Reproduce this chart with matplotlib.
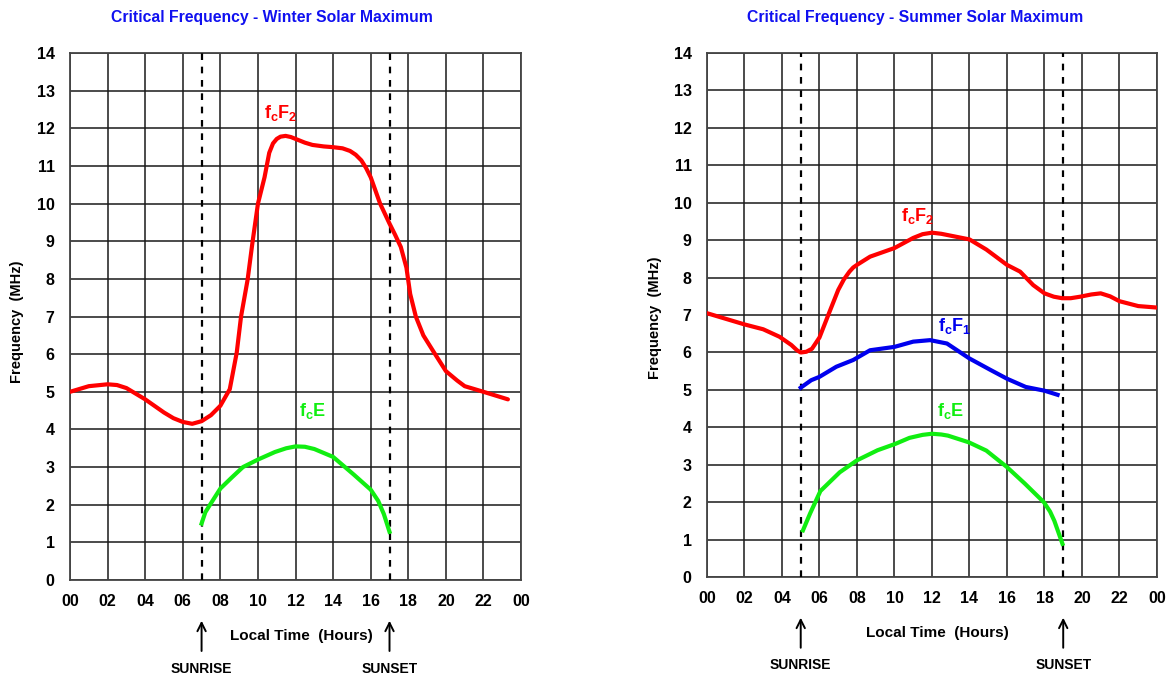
import numpy as np
import matplotlib
matplotlib.use('Agg')
import matplotlib.pyplot as plt

plt.rcParams['font.family'] = ['Liberation Sans', 'DejaVu Sans']
plt.rcParams['font.weight'] = 'bold'
plt.rcParams['mathtext.fontset'] = 'custom'
plt.rcParams['mathtext.rm'] = 'Liberation Sans:bold'
plt.rcParams['mathtext.bf'] = 'Liberation Sans:bold'

# Datos (horas locales, MHz)
hour_ticks = list(range(0, 25, 2))
hour_labels = ['00', '02', '04', '06', '08', '10', '12', '14', '16', '18', '20', '22', '00']
freq_ticks = list(range(0, 15))

# Invierno
winter_sunrise = 7
winter_sunset = 17
winter_f2_t = [0, 1, 2, 2.5, 3, 4, 5, 5.5, 6, 6.5, 7, 7.5, 8, 8.5, 8.87, 9.1, 9.45, 9.7, 10,
               10.35, 10.6, 10.8, 11.0, 11.2, 11.47, 11.75, 12, 12.5, 12.9, 13.5, 14, 14.5,
               14.9, 15.2, 15.5, 15.75, 16, 16.25, 16.5, 17, 17.3, 17.6, 17.9, 18.1, 18.4,
               18.8, 19.3, 20, 20.6, 21, 22, 23.3]
winter_f2 = [5.0, 5.15, 5.2, 5.18, 5.1, 4.8, 4.45, 4.3, 4.2, 4.15, 4.22, 4.38, 4.63, 5.07,
             6.04, 7.0, 7.98, 8.94, 10.0, 10.7, 11.35, 11.6, 11.72, 11.78, 11.8, 11.77,
             11.72, 11.62, 11.56, 11.52, 11.5, 11.47, 11.4, 11.3, 11.15, 10.95, 10.7, 10.35,
             10.0, 9.47, 9.17, 8.85, 8.3, 7.6, 7.0, 6.5, 6.1, 5.55, 5.3, 5.15, 5.0, 4.8]
winter_e_t = [7, 7.2, 7.45, 8, 8.6, 9.2, 10, 10.9, 11.5, 12, 12.5, 13, 14, 15.1, 16, 16.4,
              16.7, 17]
winter_e = [1.5, 1.8, 2.0, 2.43, 2.72, 3.0, 3.2, 3.4, 3.5, 3.55, 3.54, 3.48, 3.27, 2.8, 2.4,
            2.1, 1.75, 1.28]

# Verano
summer_sunrise = 5
summer_sunset = 19
summer_f2_t = [0, 1, 2, 3, 3.87, 4.5, 4.8, 5, 5.3, 5.6, 6, 6.5, 7, 7.3, 7.6, 7.8, 8, 8.7,
               10, 11, 11.5, 12, 12.5, 12.9, 14, 14.9, 16, 16.7, 17.4, 18, 18.5, 18.94,
               19.4, 19.9, 20.5, 21, 21.5, 22, 23, 24]
summer_f2 = [7.05, 6.9, 6.75, 6.62, 6.42, 6.2, 6.06, 6.0, 6.02, 6.1, 6.4, 7.04, 7.67, 7.95,
             8.16, 8.27, 8.34, 8.56, 8.79, 9.06, 9.16, 9.2, 9.17, 9.13, 9.02, 8.75, 8.34,
             8.16, 7.8, 7.58, 7.49, 7.45, 7.45, 7.49, 7.55, 7.58, 7.5, 7.37, 7.24, 7.2]
summer_f1_t = [5, 5.56, 6, 6.9, 7.8, 8.7, 10, 11, 11.9, 12.8, 14, 15.1, 16, 17, 18, 18.7]
summer_f1 = [5.06, 5.26, 5.35, 5.62, 5.8, 6.06, 6.15, 6.29, 6.33, 6.24, 5.84, 5.54, 5.3,
             5.08, 4.98, 4.87]
summer_e_t = [5.12, 5.5, 6.05, 7.08, 8.0, 9.1, 10.05, 10.8, 11.5, 12, 12.5, 12.85, 13.97, 14.9,
              16.0, 16.95, 17.97, 18.3, 18.53, 18.96]
summer_e = [1.25, 1.7, 2.3, 2.8, 3.12, 3.39, 3.56, 3.72, 3.8, 3.83, 3.81, 3.78, 3.6, 3.38,
            2.94, 2.5, 2.0, 1.75, 1.5, 0.89]

RED = '#ff0000'
GREEN = '#11ee11'
BLUE = '#0000ee'
TITLE_BLUE = '#1010f0'


def preparar_ejes(ax, titulo, amanecer, ocaso, title_x, ylab_x, ylab_y):
    ax.set_xlim(0, 24)
    ax.set_ylim(0, 14)
    ax.set_xticks(hour_ticks)
    ax.set_xticklabels(hour_labels)
    ax.set_yticks(freq_ticks)
    ax.tick_params(axis='both', length=0, labelsize=11.5)
    ax.tick_params(axis='x', pad=10)
    ax.tick_params(axis='y', pad=11)
    ax.grid(True, color='#1a1a1a', lw=1.1)
    ax.set_axisbelow(True)
    for s in ax.spines.values():
        s.set_color('#444444')
        s.set_linewidth(1.3)
    for h in (amanecer, ocaso):
        ax.axvline(h, color='black', lw=1.6, ls=(0, (3, 3)), zorder=3)
    tr = ax.get_xaxis_transform()
    for h, txt in ((amanecer, 'SUNRISE'), (ocaso, 'SUNSET')):
        ax.annotate('', xy=(h, -0.072), xytext=(h, -0.14), xycoords=tr, textcoords=tr,
                    arrowprops=dict(arrowstyle='->', lw=1.4, color='black',
                                    mutation_scale=15), annotation_clip=False)
        ax.text(h, -0.168, txt, transform=tr, ha='center', va='center', fontsize=10)
    ax.text(12.3, -0.107, 'Local Time  (Hours)', transform=tr, ha='center', va='center',
            fontsize=11)
    ax.text(ylab_x, ylab_y, 'Frequency  (MHz)', transform=ax.transAxes, rotation=90,
            ha='center', va='center', fontsize=10.5)
    ax.text(title_x, 1.068, titulo, transform=ax.transAxes, ha='center', va='center',
            fontsize=11.3, color=TITLE_BLUE)


fig = plt.figure(figsize=(11.67, 6.79), dpi=100)
ax1 = fig.add_axes([0.060, 0.1458, 0.3865, 0.776])
ax2 = fig.add_axes([0.6058, 0.150, 0.3856, 0.772])

preparar_ejes(ax1, 'Critical Frequency - Winter Solar Maximum', winter_sunrise, winter_sunset,
              0.448, -0.118, 0.49)
ax1.plot(winter_f2_t, winter_f2, color=RED, lw=3, solid_joinstyle='round',
         solid_capstyle='round', zorder=4)
ax1.plot(winter_e_t, winter_e, color=GREEN, lw=3, solid_joinstyle='round', zorder=4)
ax1.text(11.2, 12.4, r'$\mathbf{f_cF_2}$', color=RED, fontsize=13, ha='center', va='center')
ax1.text(12.9, 4.5, r'$\mathbf{f_cE}$', color=GREEN, fontsize=13, ha='center', va='center')

preparar_ejes(ax2, 'Critical Frequency - Summer Solar Maximum', summer_sunrise, summer_sunset,
              0.462, -0.116, 0.494)
ax2.plot(summer_f2_t, summer_f2, color=RED, lw=3, solid_joinstyle='round', zorder=4)
ax2.plot(summer_f1_t, summer_f1, color=BLUE, lw=3, solid_joinstyle='round', zorder=4)
ax2.plot(summer_e_t, summer_e, color=GREEN, lw=3, solid_joinstyle='round', zorder=4)
ax2.text(11.25, 9.65, r'$\mathbf{f_cF_2}$', color=RED, fontsize=13, ha='center', va='center')
ax2.text(13.2, 6.7, r'$\mathbf{f_cF_1}$', color=BLUE, fontsize=13, ha='center', va='center')
ax2.text(13.0, 4.45, r'$\mathbf{f_cE}$', color=GREEN, fontsize=13, ha='center', va='center')

fig.savefig('out.png', dpi=100)
